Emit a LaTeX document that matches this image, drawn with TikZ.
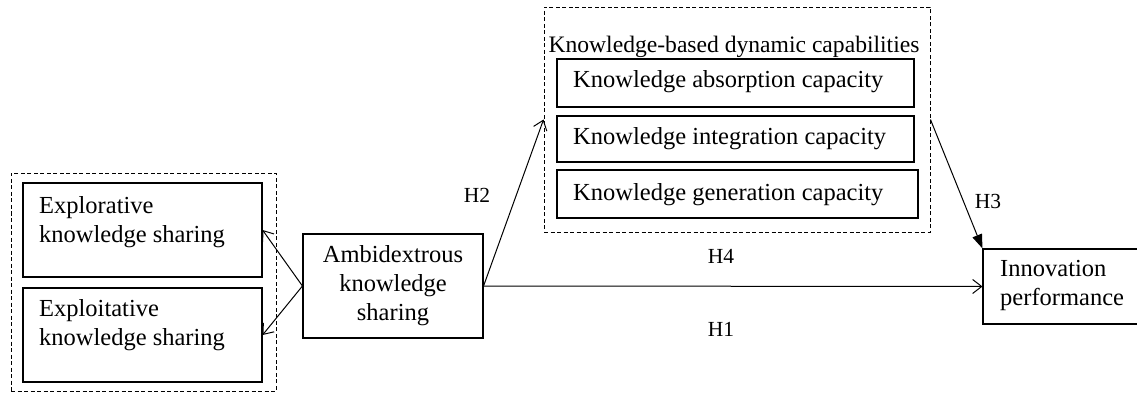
\documentclass[tikz,border=0pt]{standalone}
\usepackage{fontspec}
\setmainfont{Liberation Serif}
\usetikzlibrary{arrows.meta}
\tikzset{
  box/.style={draw, line width=1.1pt, inner sep=0pt},
  grp/.style={draw, line width=0.9pt, dash pattern=on 4pt off 2.5pt, inner sep=0pt},
  txt/.style={inner sep=0pt, font=\fontsize{24.5}{29}\selectfont},
  ttl/.style={inner sep=0pt, font=\fontsize{23.6}{28}\selectfont},
  hlab/.style={inner sep=0pt, font=\fontsize{21.5}{24}\selectfont},
  conn/.style={line width=1pt, -{Straight Barb[length=9pt,width=14pt]}},
  connf/.style={line width=1pt, -{Triangle[length=14pt,width=10pt]}}
}
\begin{document}
\begin{tikzpicture}[x=1pt,y=-1pt]
\clip (0,0) rectangle (1137,393);
\fill[white] (0,0) rectangle (1137,393);
% left group
\node[grp, minimum width=265pt, minimum height=218pt] (left) at (143.5,282) {};
\node[box, minimum width=239pt, minimum height=94pt] (expl) at (142.5,230) {};
\node[box, minimum width=239pt, minimum height=94pt] (expt) at (142.5,335) {};
\node[txt, anchor=base west, align=left] (explT) at (39,242) {Explorative\\knowledge sharing};
\node[txt, anchor=base west, align=left] (exptT) at (39,345) {Exploitative\\knowledge sharing};
% ambidextrous
\node[box, minimum width=180pt, minimum height=104pt] (amb) at (393,286) {};
\node[txt, anchor=base, align=center] (ambT) at (393,320) {Ambidextrous\\knowledge\\sharing};
% dynamic capabilities group
\node[grp, minimum width=386pt, minimum height=225pt] (dyn) at (737,119.5) {};
\node[ttl, anchor=base] (dynT) at (734,53) {Knowledge-based dynamic capabilities};
\node[box, minimum width=357pt, minimum height=48pt] (abs) at (735.5,83) {};
\node[box, minimum width=357pt, minimum height=46pt] (int) at (735.5,139) {};
\node[box, minimum width=361pt, minimum height=48pt] (gen) at (737.5,194) {};
\node[txt, anchor=base west] (absT) at (573,88) {Knowledge absorption capacity};
\node[txt, anchor=base west] (intT) at (573,145) {Knowledge integration capacity};
\node[txt, anchor=base west] (genT) at (573,200) {Knowledge generation capacity};
% innovation performance
\node[box, minimum width=170pt, minimum height=75pt] (inn) at (1068,286.5) {};
\node[txt, anchor=base west, align=left] (innT) at (1000,305) {Innovation\\performance};
% connectors
\draw[conn] (amb.west) -- (expl.east);
\draw[conn] (amb.west) -- (expt.east);
\draw[conn] (amb.east) -- (dyn.west);
\draw[conn] (amb.east) -- (inn.west);
\draw[connf] (dyn.east) -- (inn.north west);
% labels
\node[hlab] (h2) at (477,195) {H2};
\node[hlab] (h3) at (988,201) {H3};
\node[hlab] (h4) at (721,256) {H4};
\node[hlab] (h1) at (721,329) {H1};
\end{tikzpicture}
\end{document}
